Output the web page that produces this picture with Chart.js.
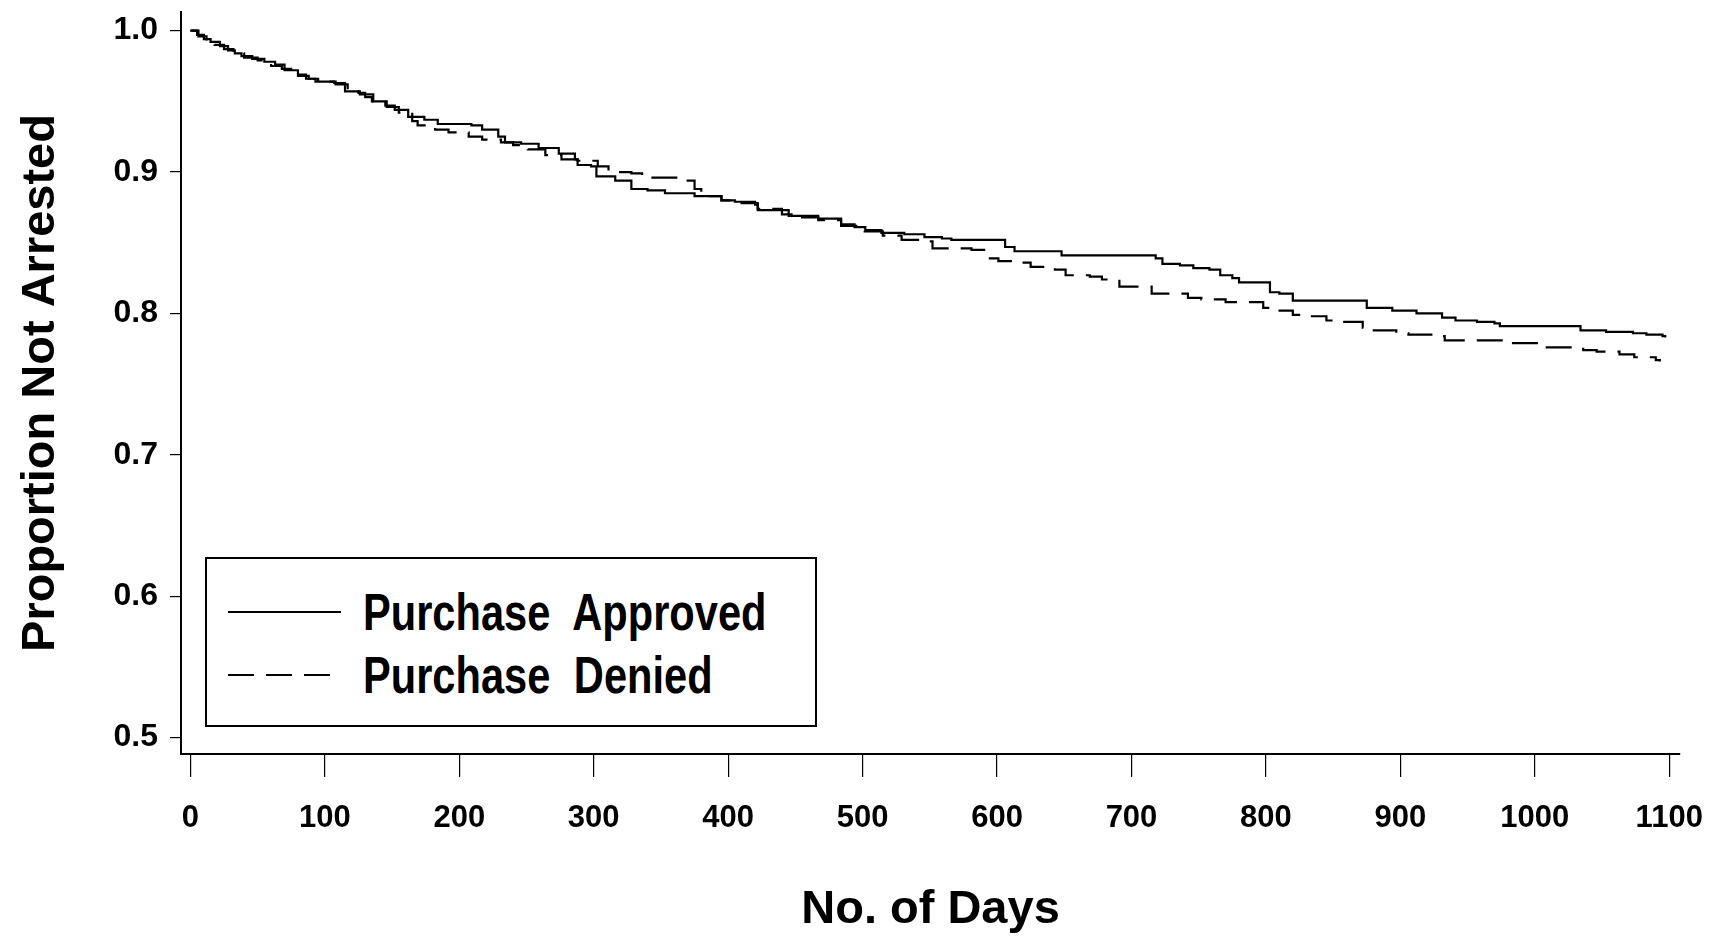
<!DOCTYPE html>
<html>
<head>
<meta charset="utf-8">
<title>Proportion Not Arrested</title>
<script src="https://cdn.jsdelivr.net/npm/chart.js@4"></script>
<style>
    body { margin: 0; background: #fff; }
    #wrap { position: relative; width: 1716px; height: 938px; }
    #legendBox {
        position: absolute; left: 205px; top: 557px; width: 612px; height: 170px;
        box-sizing: border-box; border: 2px solid #000; background: #fff;
        font-family: "Liberation Sans", Arial, sans-serif;
        font-weight: bold; font-size: 52px; color: #000;
    }
    .row { position: absolute; left: 21px; height: 60px; display: flex; align-items: center; white-space: nowrap; }
    .row svg { width: 113px; height: 4px; margin-right: 22px; flex: none; }
    .row span { display: inline-block; transform: scaleX(0.8); transform-origin: left center; word-spacing: 15px; }
</style>
</head>
<body>
<div id="wrap">
    <canvas id="kmChart" width="1716" height="938"></canvas>
    <div id="legendBox"></div>
</div>
<script>
// Kaplan-Meier style curves
const approvedDays = [0, 5, 10, 15, 22, 28, 33, 38, 46, 55, 63, 70, 80, 88, 93, 107, 115, 125, 130, 135,
    145, 152, 162, 174, 184, 209, 217, 229, 234, 246, 259, 274, 286, 288, 298, 302, 316, 328, 340, 353,
    375, 395, 405, 420, 422, 445, 467, 484, 494, 502, 514, 531, 546, 559, 566, 606, 613, 648, 718, 723,
    736, 746, 758, 766, 775, 780, 803, 810, 820, 875, 894, 912, 931, 941, 957, 970, 974, 1034, 1053, 1073,
    1083, 1095, 1097];
const approvedSurv = [1.000, 0.997, 0.994, 0.992, 0.989, 0.986, 0.984, 0.982, 0.980, 0.978, 0.976, 0.972, 0.968, 0.966, 0.964, 0.963, 0.957, 0.956, 0.953, 0.950,
    0.947, 0.944, 0.939, 0.937, 0.934, 0.933, 0.930, 0.925, 0.921, 0.920, 0.917, 0.913, 0.909, 0.905, 0.904, 0.897, 0.894, 0.888, 0.887, 0.885,
    0.883, 0.880, 0.879, 0.877, 0.873, 0.869, 0.867, 0.863, 0.861, 0.859, 0.857, 0.856, 0.854, 0.853, 0.852, 0.847, 0.844, 0.841, 0.839, 0.835,
    0.834, 0.832, 0.831, 0.827, 0.825, 0.822, 0.815, 0.814, 0.809, 0.804, 0.802, 0.800, 0.797, 0.795, 0.794, 0.793, 0.791, 0.788, 0.787, 0.786,
    0.785, 0.784, 0.783];

const deniedDays = [0, 6, 12, 18, 25, 32, 40, 50, 60, 68, 78, 86, 95, 108, 117, 126, 136, 146, 155, 165,
    169, 182, 192, 207, 217, 231, 240, 251, 264, 276, 288, 303, 311, 328, 336, 354, 363, 375, 380, 395,
    410, 422, 440, 455, 467, 484, 500, 515, 529, 547, 552, 581, 592, 601, 618, 625, 643, 651, 669, 678,
    691, 701, 715, 742, 752, 770, 782, 798, 804, 820, 830, 845, 853, 872, 877, 897, 906, 925, 933, 963,
    981, 994, 1007, 1036, 1046, 1063, 1074, 1090, 1093];
const deniedSurv = [1.000, 0.996, 0.993, 0.990, 0.987, 0.984, 0.981, 0.979, 0.975, 0.973, 0.969, 0.966, 0.964, 0.962, 0.957, 0.955, 0.950, 0.946, 0.942, 0.936,
    0.933, 0.930, 0.928, 0.925, 0.923, 0.921, 0.919, 0.916, 0.912, 0.909, 0.908, 0.904, 0.900, 0.899, 0.896, 0.896, 0.894, 0.888, 0.883, 0.880,
    0.878, 0.874, 0.870, 0.868, 0.866, 0.862, 0.858, 0.855, 0.852, 0.851, 0.846, 0.845, 0.839, 0.837, 0.836, 0.833, 0.831, 0.827, 0.826, 0.824,
    0.819, 0.819, 0.814, 0.811, 0.810, 0.808, 0.808, 0.804, 0.802, 0.799, 0.798, 0.795, 0.794, 0.790, 0.788, 0.786, 0.785, 0.784, 0.781, 0.781,
    0.779, 0.779, 0.776, 0.774, 0.773, 0.771, 0.769, 0.767, 0.766];

const xTicks = [0, 100, 200, 300, 400, 500, 600, 700, 800, 900, 1000, 1100];
const yTicks = [0.5, 0.6, 0.7, 0.8, 0.9, 1.0];

const FONT = '"Liberation Sans", Arial, sans-serif';

function toPoints(days, surv) {
    return days.map((d, i) => ({ x: d, y: surv[i] }));
}

document.addEventListener('DOMContentLoaded', function() {
    const chart = renderChart();
    renderLegend(chart);
});

function renderChart() {
    const ctx = document.getElementById('kmChart');
    return new Chart(ctx, {
        type: 'line',
        data: {
            datasets: [{
                label: 'Purchase Approved',
                data: toPoints(approvedDays, approvedSurv),
                borderColor: '#000',
                borderWidth: 2.2,
                stepped: true,
                pointRadius: 0,
                fill: false
            }, {
                label: 'Purchase Denied',
                data: toPoints(deniedDays, deniedSurv),
                borderColor: '#000',
                borderWidth: 2.2,
                borderDash: [26, 12],
                stepped: true,
                pointRadius: 0,
                fill: false
            }]
        },
        options: {
            responsive: false,
            animation: false,
            layout: { padding: { top: 12, right: 36, left: 0, bottom: 0 } },
            plugins: {
                legend: { display: false },
                tooltip: { enabled: false }
            },
            scales: {
                x: {
                    type: 'linear',
                    min: -7,
                    max: 1108,
                    afterBuildTicks: s => { s.ticks = xTicks.map(v => ({ value: v })); },
                    afterFit: s => { s.height = 184; s.paddingLeft = 0; s.paddingRight = 0; },
                    grid: { drawOnChartArea: false, tickLength: 23, color: '#000', lineWidth: 1.2 },
                    border: { color: '#000', width: 2 },
                    ticks: { color: '#000', font: { family: FONT, size: 31, weight: 'bold' }, padding: 23, maxRotation: 0, callback: v => String(v) },
                    title: { display: true, text: 'No. of Days', color: '#000', font: { family: FONT, size: 47, weight: 'bold' }, padding: 0 }
                },
                y: {
                    type: 'linear',
                    min: 0.4884,
                    max: 1.0132,
                    afterBuildTicks: s => { s.ticks = yTicks.map(v => ({ value: v })); },
                    afterFit: s => { s.width = 181; s.paddingTop = 0; s.paddingBottom = 0; },
                    grid: { drawOnChartArea: false, tickLength: 11, color: '#000', lineWidth: 1.2 },
                    border: { color: '#000', width: 2 },
                    ticks: { color: '#000', font: { family: FONT, size: 32, weight: 'bold' }, padding: 12, callback: v => v.toFixed(1) },
                    title: { display: true, text: 'Proportion Not Arrested', color: '#000', font: { family: FONT, size: 47, weight: 'bold' }, padding: { top: 13, bottom: 0 } }
                }
            }
        }
    });
}

function renderLegend(chart) {
    const box = document.getElementById('legendBox');
    box.innerHTML = chart.data.datasets.map((ds, i) => {
        const dash = ds.borderDash ? ` stroke-dasharray="${ds.borderDash.join(' ')}"` : '';
        return `<div class="row" style="top:${23 + i * 63}px">
            <svg viewBox="0 0 113 4"><line x1="0" y1="2" x2="113" y2="2" stroke="#000" stroke-width="2"${dash}/></svg>
            <span>${ds.label}</span>
        </div>`;
    }).join('');
}
</script>
</body>
</html>
